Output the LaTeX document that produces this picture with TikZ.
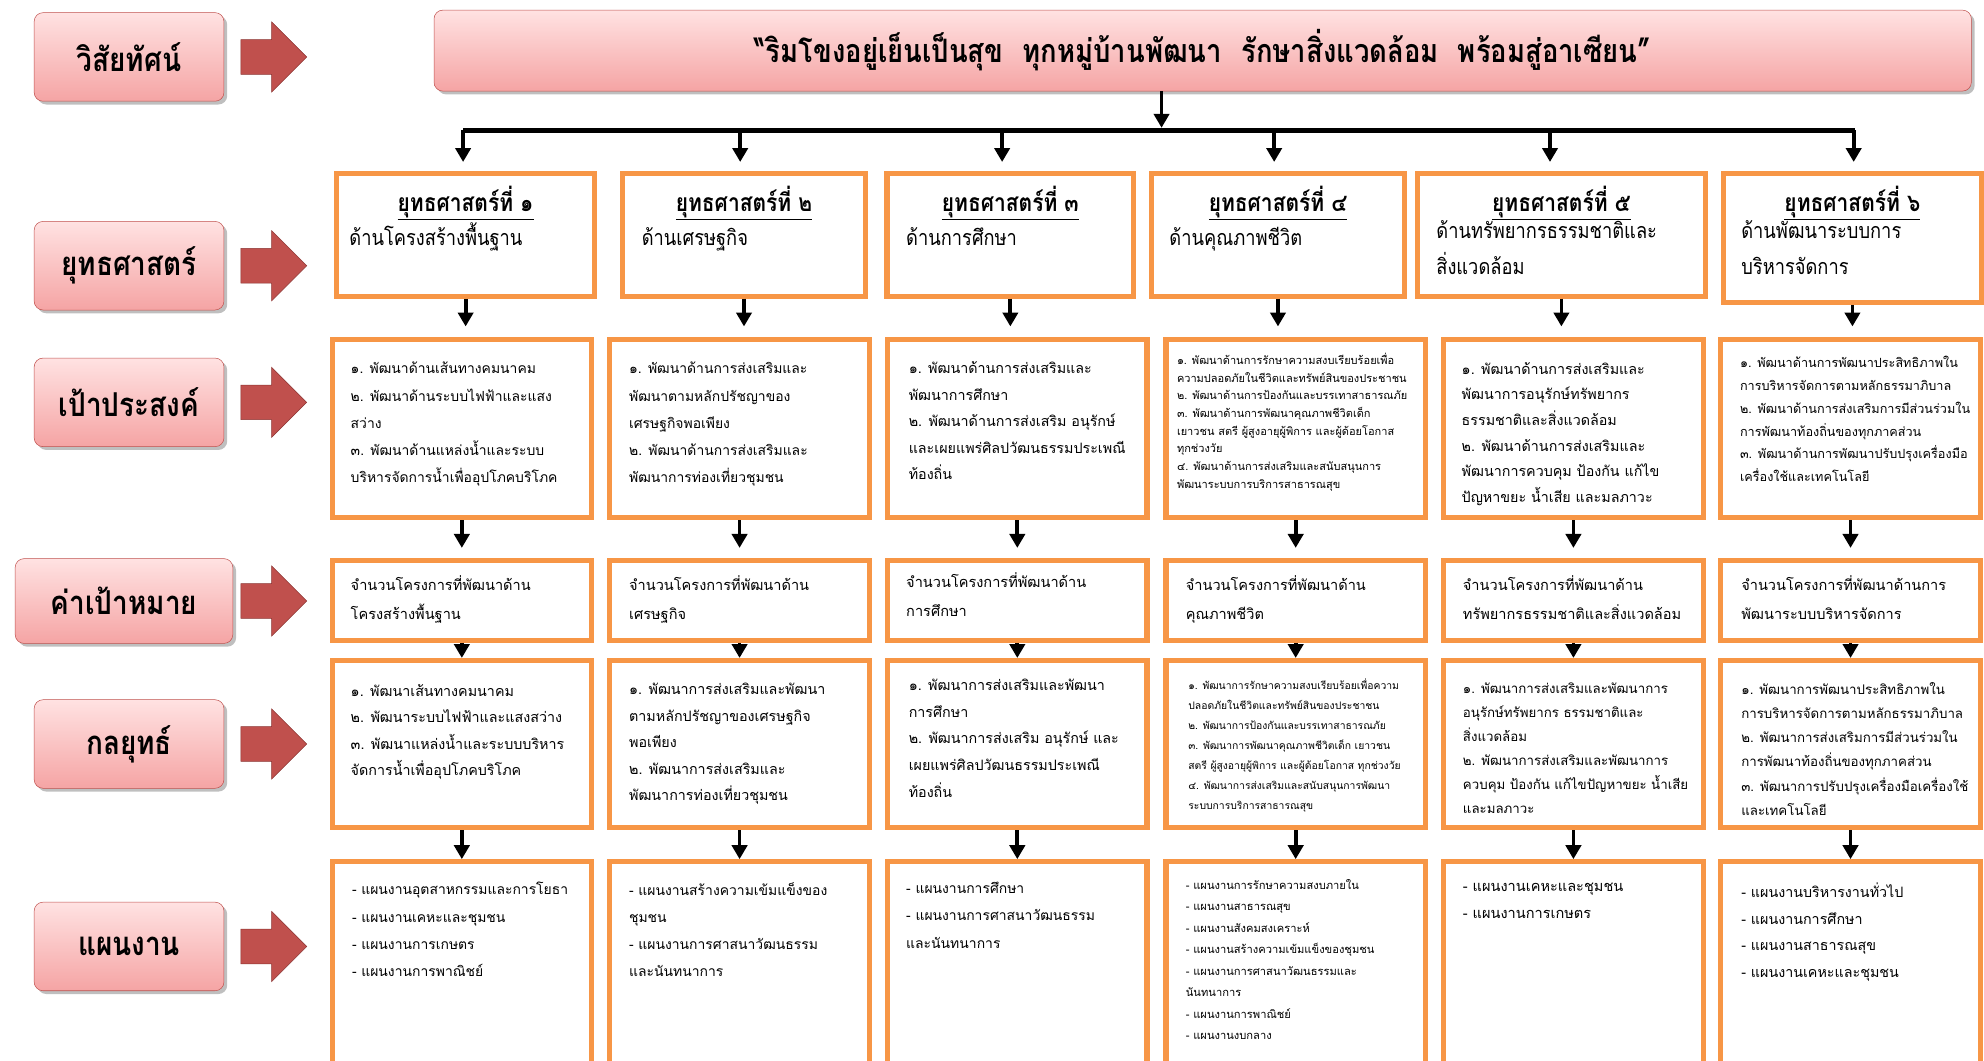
\documentclass[tikz,border=0pt]{standalone}
\usepackage{fontspec}
\setmainfont{Loma}[Script=Thai]
\newfontfamily\thcond{Loma}[Script=Thai, FakeStretch=0.85]
\usepackage{tikz}
\usetikzlibrary{shapes,arrows.meta,positioning,shadows}

\definecolor{pinktop}{HTML}{FFE2E2}
\definecolor{pinkbot}{HTML}{F5A4A4}
\definecolor{pinkedge}{HTML}{C0504D}
\definecolor{arrowred}{HTML}{C0504D}
\definecolor{arrowdark}{HTML}{8C3533}
\definecolor{boxorange}{HTML}{F79646}

\newcommand{\fs}[2]{\fontsize{#1}{#2}\selectfont}

\tikzstyle{sidelbl} = [rectangle, draw=pinkedge, rounded corners=7pt, top color=pinktop, bottom color=pinkbot, drop shadow, minimum width=150pt, minimum height=70pt, font=\thcond\fs{26}{30}\bfseries]
\tikzstyle{banner} = [sidelbl, minimum width=1215pt, minimum height=64pt, font=\thcond\fs{25.5}{30}\bfseries]
\tikzstyle{bigarrow} = [single arrow, fill=arrowred, draw=arrowdark, minimum height=52pt, inner sep=0pt, inner ysep=13.5pt, single arrow head extend=14pt]
\tikzstyle{stratbox} = [rectangle, draw=boxorange, line width=4pt, fill=white, anchor=north west, inner sep=0pt]
\tikzstyle{planbox} = [stratbox, anchor=center, minimum width=205pt]
\tikzset{bodytxt/.style 2 args={anchor=north west, align=left, inner sep=0pt, font=\fs{#1}{#2}, execute at begin node=\strut, yshift=#2*0.7pt-#1*0.65pt}}
\tikzstyle{headtxt} = [anchor=base, inner sep=0pt, font=\thcond\fs{19.5}{22}\bfseries]
\tikzstyle{conn} = [->, line width=3pt]

\begin{document}
\begin{tikzpicture}[x=1pt, y=-1pt, >={Triangle[width=12pt,length=11pt]}]
\useasboundingbox (0,0) rectangle (1568,838);

% left column
\node[sidelbl] (lv) at (102,45) {วิสัยทัศน์};
\node[sidelbl] (ls) at (102,210) {ยุทธศาสตร์};
\node[sidelbl] (lg) at (102,318) {เป้าประสงค์};
\node[sidelbl, minimum width=172pt, minimum height=67pt] (lt) at (98,475) {ค่าเป้าหมาย};
\node[sidelbl] (lk) at (102,588) {กลยุทธ์};
\node[sidelbl] (lp) at (102,748) {แผนงาน};
\foreach \n in {lv,ls,lg,lk,lp}
  \node[bigarrow, right=13pt of \n] (a\n) {};
\node[bigarrow, right=6pt of lt] (alt) {};

% vision
\node[banner] (vision) at (950.5,40) {“ริมโขงอยู่เย็นเป็นสุข\hspace{0.6em}ทุกหมู่บ้านพัฒนา\hspace{0.6em}รักษาสิ่งแวดล้อม\hspace{0.6em}พร้อมสู่อาเซียน”};

\coordinate (hub) at (918,103);
\coordinate (barL) at (366,103);
\coordinate (barR) at (1466,103);
\draw[conn, shorten >=2pt] (vision.south -| hub) -- (hub);
\draw[line width=4pt] (barL) -- (barR);

% strategies
\node[stratbox, minimum width=204pt, minimum height=97pt] (s1) at (264,135) {};
\node[stratbox, minimum width=192pt, minimum height=97pt] (s2) at (490,135) {};
\node[stratbox, minimum width=195pt, minimum height=97pt] (s3) at (699,135) {};
\node[stratbox, minimum width=200pt, minimum height=97pt] (s4) at (908,135) {};
\node[stratbox, minimum width=228pt, minimum height=97pt] (s5) at (1118,135) {};
\node[stratbox, minimum width=204pt, minimum height=102pt] (s6) at (1360,135) {};
\foreach \x [count=\c] in {366,585,792,1007,1225,1465}
  \draw[conn, shorten >=7pt] (\x,103) -- (\x,103 |- s\c.north);

\node[headtxt] (h1) at (s1.north |- 0,167) {\underline{ยุทธศาสตร์ที่ ๑}};
\node[headtxt] (h2) at (s2.north |- 0,167) {\underline{ยุทธศาสตร์ที่ ๒}};
\node[headtxt] (h3) at (s3.north |- 0,167) {\underline{ยุทธศาสตร์ที่ ๓}};
\node[headtxt] (h4) at (s4.north |- 0,167) {\underline{ยุทธศาสตร์ที่ ๔}};
\node[headtxt] (h5) at (s5.north |- 0,167) {\underline{ยุทธศาสตร์ที่ ๕}};
\node[headtxt] (h6) at (s6.north |- 0,167) {\underline{ยุทธศาสตร์ที่ ๖}};
\node[bodytxt={17}{28}, font=\thcond\fs{17}{28}] (d1) at (276,183) {ด้านโครงสร้างพื้นฐาน};
\node[bodytxt={17}{28}, font=\thcond\fs{17}{28}] (d2) at (507,183) {ด้านเศรษฐกิจ};
\node[bodytxt={17}{28}, font=\thcond\fs{17}{28}] (d3) at (716,183) {ด้านการศึกษา};
\node[bodytxt={17}{28}, font=\thcond\fs{17}{28}] (d4) at (924,183) {ด้านคุณภาพชีวิต};
\node[bodytxt={17}{28}, font=\thcond\fs{17}{28}] (d5) at (1135,183) {ด้านทรัพยากรธรรมชาติและ\\สิ่งแวดล้อม};
\node[bodytxt={17}{28}, font=\thcond\fs{17}{28}] (d6) at (1376,183) {ด้านพัฒนาระบบการ\\บริหารจัดการ};

% boxes of the lower rows
\foreach \x [count=\c] in {365,584.5,804,1024,1243.5,1462.5} {
  \node[planbox, minimum height=141pt] (g\c) at (\x,338.5) {};
  \node[planbox, minimum height=63pt] (t\c) at (\x,474.5) {};
  \node[planbox, minimum height=132pt] (k\c) at (\x,588) {};
  \node[planbox, minimum height=162pt] (p\c) at (\x,762) {};
}
\foreach \c in {1,...,6} {
  \draw[conn, shorten >=8pt] (s\c.south) -- (s\c.south |- g\c.north);
  \draw[conn, shorten >=8pt] (g\c) -- (t\c);
  \draw[conn] (t\c) -- (k\c);
  \draw[conn] (k\c) -- (p\c);
}

% goals
\node[bodytxt={11}{21.5}] (gt1) at (277,294) {๑. พัฒนาด้านเส้นทางคมนาคม\\๒. พัฒนาด้านระบบไฟฟ้าและแสง\\สว่าง\\๓. พัฒนาด้านแหล่งน้ำและระบบ\\บริหารจัดการน้ำเพื่ออุปโภคบริโภค};
\node[bodytxt={11}{21.5}] (gt2) at (497,294) {๑. พัฒนาด้านการส่งเสริมและ\\พัฒนาตามหลักปรัชญาของ\\เศรษฐกิจพอเพียง\\๒. พัฒนาด้านการส่งเสริมและ\\พัฒนาการท่องเที่ยวชุมชน};
\node[bodytxt={11.3}{21}] (gt3) at (718,293) {๑. พัฒนาด้านการส่งเสริมและ\\พัฒนาการศึกษา\\๒. พัฒนาด้านการส่งเสริม อนุรักษ์\\และเผยแพร่ศิลปวัฒนธรรมประเพณี\\ท้องถิ่น};
\node[bodytxt={8.7}{14}] (gt4) at (930,283) {๑. พัฒนาด้านการรักษาความสงบเรียบร้อยเพื่อ\\ความปลอดภัยในชีวิตและทรัพย์สินของประชาชน\\๒. พัฒนาด้านการป้องกันและบรรเทาสาธารณภัย\\๓. พัฒนาด้านการพัฒนาคุณภาพชีวิตเด็ก\\เยาวชน สตรี ผู้สูงอายุผู้พิการ และผู้ด้อยโอกาส\\ทุกช่วงวัย\\๔. พัฒนาด้านการส่งเสริมและสนับสนุนการ\\พัฒนาระบบการบริการสาธารณสุข};
\node[bodytxt={11.3}{20.3}] (gt5) at (1155,293) {๑. พัฒนาด้านการส่งเสริมและ\\พัฒนาการอนุรักษ์ทรัพยากร\\ธรรมชาติและสิ่งแวดล้อม\\๒. พัฒนาด้านการส่งเสริมและ\\พัฒนาการควบคุม ป้องกัน แก้ไข\\ปัญหาขยะ น้ำเสีย และมลภาวะ};
\node[bodytxt={10}{18}] (gt6) at (1375,287.5) {๑. พัฒนาด้านการพัฒนาประสิทธิภาพใน\\การบริหารจัดการตามหลักธรรมาภิบาล\\๒. พัฒนาด้านการส่งเสริมการมีส่วนร่วมใน\\การพัฒนาท้องถิ่นของทุกภาคส่วน\\๓. พัฒนาด้านการพัฒนาปรับปรุงเครื่องมือ\\เครื่องใช้และเทคโนโลยี};

% targets
\node[bodytxt={11.5}{23}] (tt1) at (277,463) {จำนวนโครงการที่พัฒนาด้าน\\โครงสร้างพื้นฐาน};
\node[bodytxt={11.5}{23}] (tt2) at (497,463) {จำนวนโครงการที่พัฒนาด้าน\\เศรษฐกิจ};
\node[bodytxt={11.5}{23}] (tt3) at (716,461) {จำนวนโครงการที่พัฒนาด้าน\\การศึกษา};
\node[bodytxt={11.5}{23}] (tt4) at (937,463) {จำนวนโครงการที่พัฒนาด้าน\\คุณภาพชีวิต};
\node[bodytxt={11.5}{23}] (tt5) at (1156,463) {จำนวนโครงการที่พัฒนาด้าน\\ทรัพยากรธรรมชาติและสิ่งแวดล้อม};
\node[bodytxt={11.5}{23}] (tt6) at (1376,463) {จำนวนโครงการที่พัฒนาด้านการ\\พัฒนาระบบบริหารจัดการ};

% tactics
\node[bodytxt={11.3}{21}] (kt1) at (277,548) {๑. พัฒนาเส้นทางคมนาคม\\๒. พัฒนาระบบไฟฟ้าและแสงสว่าง\\๓. พัฒนาแหล่งน้ำและระบบบริหาร\\จัดการน้ำเพื่ออุปโภคบริโภค};
\node[bodytxt={11.3}{21}] (kt2) at (497,547) {๑. พัฒนาการส่งเสริมและพัฒนา\\ตามหลักปรัชญาของเศรษฐกิจ\\พอเพียง\\๒. พัฒนาการส่งเสริมและ\\พัฒนาการท่องเที่ยวชุมชน};
\node[bodytxt={11.3}{21}] (kt3) at (718,544) {๑. พัฒนาการส่งเสริมและพัฒนา\\การศึกษา\\๒. พัฒนาการส่งเสริม อนุรักษ์ และ\\เผยแพร่ศิลปวัฒนธรรมประเพณี\\ท้องถิ่น};
\node[bodytxt={8.2}{15.8}] (kt4) at (939,542) {๑. พัฒนาการรักษาความสงบเรียบร้อยเพื่อความ\\ปลอดภัยในชีวิตและทรัพย์สินของประชาชน\\๒. พัฒนาการป้องกันและบรรเทาสาธารณภัย\\๓. พัฒนาการพัฒนาคุณภาพชีวิตเด็ก เยาวชน\\สตรี ผู้สูงอายุผู้พิการ และผู้ด้อยโอกาส ทุกช่วงวัย\\๔. พัฒนาการส่งเสริมและสนับสนุนการพัฒนา\\ระบบการบริการสาธารณสุข};
\node[bodytxt={10.5}{19}] (kt5) at (1156,546) {๑. พัฒนาการส่งเสริมและพัฒนาการ\\อนุรักษ์ทรัพยากร ธรรมชาติและ\\สิ่งแวดล้อม\\๒. พัฒนาการส่งเสริมและพัฒนาการ\\ควบคุม ป้องกัน แก้ไขปัญหาขยะ น้ำเสีย\\และมลภาวะ};
\node[bodytxt={10.5}{19}] (kt6) at (1376,546) {๑. พัฒนาการพัฒนาประสิทธิภาพใน\\การบริหารจัดการตามหลักธรรมาภิบาล\\๒. พัฒนาการส่งเสริมการมีส่วนร่วมใน\\การพัฒนาท้องถิ่นของทุกภาคส่วน\\๓. พัฒนาการปรับปรุงเครื่องมือเครื่องใช้\\และเทคโนโลยี};

% plans
\node[bodytxt={11}{21.5}] (pt1) at (278,705) {- แผนงานอุตสาหกรรมและการโยธา\\- แผนงานเคหะและชุมชน\\- แผนงานการเกษตร\\- แผนงานการพาณิชย์};
\node[bodytxt={11}{21.5}] (pt2) at (497,705) {- แผนงานสร้างความเข้มแข็งของ\\ชุมชน\\- แผนงานการศาสนาวัฒนธรรม\\และนันทนาการ};
\node[bodytxt={11}{21.5}] (pt3) at (716,705) {- แผนงานการศึกษา\\- แผนงานการศาสนาวัฒนธรรม\\และนันทนาการ};
\node[bodytxt={8.8}{17}] (pt4) at (937,701) {- แผนงานการรักษาความสงบภายใน\\- แผนงานสาธารณสุข\\- แผนงานสังคมสงเคราะห์\\- แผนงานสร้างความเข้มแข็งของชุมชน\\- แผนงานการศาสนาวัฒนธรรมและ\\นันทนาการ\\- แผนงานการพาณิชย์\\- แผนงานงบกลาง};
\node[bodytxt={11.5}{21}] (pt5) at (1156,705) {- แผนงานเคหะและชุมชน\\- แผนงานการเกษตร};
\node[bodytxt={11.3}{21}] (pt6) at (1376,705) {- แผนงานบริหารงานทั่วไป\\- แผนงานการศึกษา\\- แผนงานสาธารณสุข\\- แผนงานเคหะและชุมชน};
\end{tikzpicture}
\end{document}
